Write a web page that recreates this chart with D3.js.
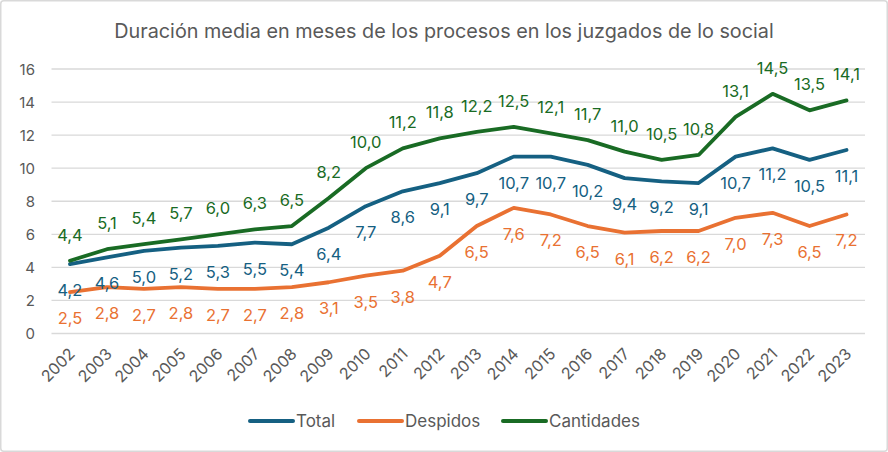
<!DOCTYPE html>
<html>
<head>
<meta charset="utf-8">
<script src="https://cdn.jsdelivr.net/npm/d3@7"></script>
<style>
  html, body { margin: 0; padding: 0; background: #fff; }
  svg { display: block; font-family: "Inter", "Open Sans", "Liberation Sans", sans-serif; }
</style>
</head>
<body>
<svg id="chart" width="888" height="452"></svg>
<script>
const years = ["2002","2003","2004","2005","2006","2007","2008","2009","2010","2011","2012","2013","2014","2015","2016","2017","2018","2019","2020","2021","2022","2023"];
const total = [4.2,4.6,5.0,5.2,5.3,5.5,5.4,6.4,7.7,8.6,9.1,9.7,10.7,10.7,10.2,9.4,9.2,9.1,10.7,11.2,10.5,11.1];
const despidos = [2.5,2.8,2.7,2.8,2.7,2.7,2.8,3.1,3.5,3.8,4.7,6.5,7.6,7.2,6.5,6.1,6.2,6.2,7.0,7.3,6.5,7.2];
const cantidades = [4.4,5.1,5.4,5.7,6.0,6.3,6.5,8.2,10.0,11.2,11.8,12.2,12.5,12.1,11.7,11.0,10.5,10.8,13.1,14.5,13.5,14.1];
const yTicks = [0,2,4,6,8,10,12,14,16];
const seriesNames = ["Total","Despidos","Cantidades"];
const title = "Duración media en meses de los procesos en los juzgados de lo social";

const series = [
  {name: seriesNames[0], values: total, color: "#156082", pos: "below"},
  {name: seriesNames[1], values: despidos, color: "#E97132", pos: "below"},
  {name: seriesNames[2], values: cantidades, color: "#196B24", pos: "above"}
];

const svg = d3.select("#chart");
const W = 888, H = 452;
const textGray = "#595959";

svg.append("rect").attr("x",0.75).attr("y",0.75).attr("width",W-1.5).attr("height",H-1.5)
  .attr("rx",3).attr("fill","#fff").attr("stroke","#d9d9d9").attr("stroke-width",1.5);

const x = d3.scaleBand().domain(years).range([51.5, 865]).padding(0);
const xc = d => x(d) + x.bandwidth()/2;
const y = d3.scaleLinear().domain([0,16]).range([333.5, 69]);

// title
svg.append("text").attr("x", 444).attr("y", 31).attr("text-anchor","middle")
  .attr("dominant-baseline","central").attr("font-size",19.8).attr("fill",textGray).text(title);

// gridlines
svg.append("g").selectAll("line").data(yTicks).join("line")
  .attr("x1", 51.5).attr("x2", 865).attr("y1", d=>y(d)).attr("y2", d=>y(d))
  .attr("stroke","#d9d9d9").attr("stroke-width",1.3);

// y tick labels
svg.append("g").selectAll("text").data(yTicks).join("text")
  .attr("x", 35).attr("y", d=>y(d)).attr("text-anchor","end").attr("dominant-baseline","central")
  .attr("font-size",15).attr("fill",textGray).text(d=>d);

// x tick labels
svg.append("g").selectAll("text").data(years).join("text")
  .attr("transform", d=>`translate(${xc(d)+2},${351}) rotate(-45)`)
  .attr("text-anchor","end").attr("dy","0.35em")
  .attr("font-size",16).attr("fill",textGray).text(d=>d);

const line = d3.line().x((d,i)=>xc(years[i])).y(d=>y(d));
const fmt = v => v.toFixed(1).replace(".", ",");

series.forEach(s => {
  svg.append("path").datum(s.values).attr("d", line).attr("fill","none")
    .attr("stroke", s.color).attr("stroke-width",3.8)
    .attr("stroke-linejoin","round").attr("stroke-linecap","round");
});

series.forEach(s => {
  svg.append("g").selectAll("text").data(s.values).join("text")
    .attr("x", (d,i)=>xc(years[i]))
    .attr("y", d=> s.pos === "above" ? y(d)-26 : y(d)+26)
    .attr("text-anchor","middle").attr("dominant-baseline","central")
    .attr("font-size",16.5).attr("fill", s.color).text(d=>fmt(d));
});

// legend
const legendItems = [
  {s: series[0], x1: 250},
  {s: series[1], x1: 359},
  {s: series[2], x1: 503}
];
const lg = svg.append("g");
legendItems.forEach(it => {
  lg.append("line").attr("x1", it.x1).attr("x2", it.x1+43).attr("y1",421).attr("y2",421)
    .attr("stroke", it.s.color).attr("stroke-width",4).attr("stroke-linecap","round");
  lg.append("text").attr("x", it.x1+46).attr("y",421).attr("dominant-baseline","central")
    .attr("font-size",17).attr("fill",textGray).text(it.s.name);
});
</script>
</body>
</html>
